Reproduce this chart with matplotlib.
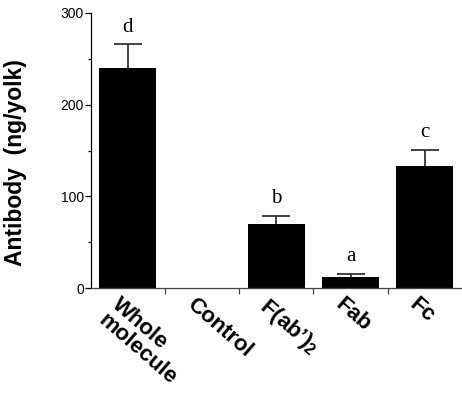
import matplotlib
matplotlib.use("Agg")
import matplotlib.pyplot as plt
import numpy as np

plt.rcParams['mathtext.fontset'] = 'custom'
plt.rcParams['mathtext.rm'] = 'Liberation Sans'
plt.rcParams['mathtext.bf'] = 'Liberation Sans:bold'

categories = ["Whole\nmolecule", "Control", "F(ab’)$_\\mathbf{2}$", "Fab", "Fc"]
values = [240, 0.5, 70, 12, 133]
errors = [26, 0, 9, 3.5, 18]
letters = ["d", "", "b", "a", "c"]

fig = plt.figure(figsize=(4.62, 3.99), dpi=100)
ax = fig.add_axes([90.7/462, 1 - 288/399, 1 - 90.7/462, (288 - 13)/399])

x = np.arange(len(categories))
ax.bar(x, values, width=0.765, color='black', zorder=2)
tops = np.array(values) + np.array(errors)
sel = np.array(errors) > 0
ax.vlines(x[sel], np.array(values)[sel], tops[sel], color='#333333', lw=1.3, zorder=1)
ax.hlines(tops[sel], x[sel] - 0.19, x[sel] + 0.19, color='#333333', lw=1.3, zorder=1)
for xi, v, e, l in zip(x, values, errors, letters):
    if l:
        ax.text(xi, v + e + 8, l, ha='center', va='bottom',
                fontsize=15, family='Liberation Serif')

ax.set_xlim(-0.5, 4.5)
ax.set_ylim(0, 300)
ax.set_yticks([0, 100, 200, 300])
ax.set_yticks([50, 150, 250], minor=True)
ax.set_yticklabels(['0', '100', '200', '300'], fontsize=10, family='Liberation Sans')
ax.tick_params(axis='y', which='major', length=4, width=0.9, pad=1)
ax.tick_params(axis='y', which='minor', length=2.5, width=0.9)
ax.set_xticks([0.5, 1.5, 2.5, 3.5])
ax.set_xticklabels([])
ax.tick_params(axis='x', which='major', length=4, width=0.9, color='#444444')

for lab, xi in zip(categories, x):
    ax.text(xi - 0.08, -7, lab, rotation=-41, rotation_mode='anchor',
            ha='left', va='top', fontsize=16, fontweight='bold',
            family='Liberation Sans', transform=ax.transData, clip_on=False,
            linespacing=1.0)

ax.spines['top'].set_visible(False)
ax.spines['right'].set_visible(False)
ax.spines['left'].set_linewidth(0.9)
ax.spines['bottom'].set_linewidth(0.9)
ax.spines['bottom'].set_color('#444444')

ax.set_ylabel("Antibody  (ng/yolk)", fontsize=16.5, fontweight='bold',
              family='Liberation Sans')
ax.yaxis.set_label_coords(-(90.7 - 27) / (462 - 90.7), 0.456)

fig.savefig("out.png", dpi=100)
